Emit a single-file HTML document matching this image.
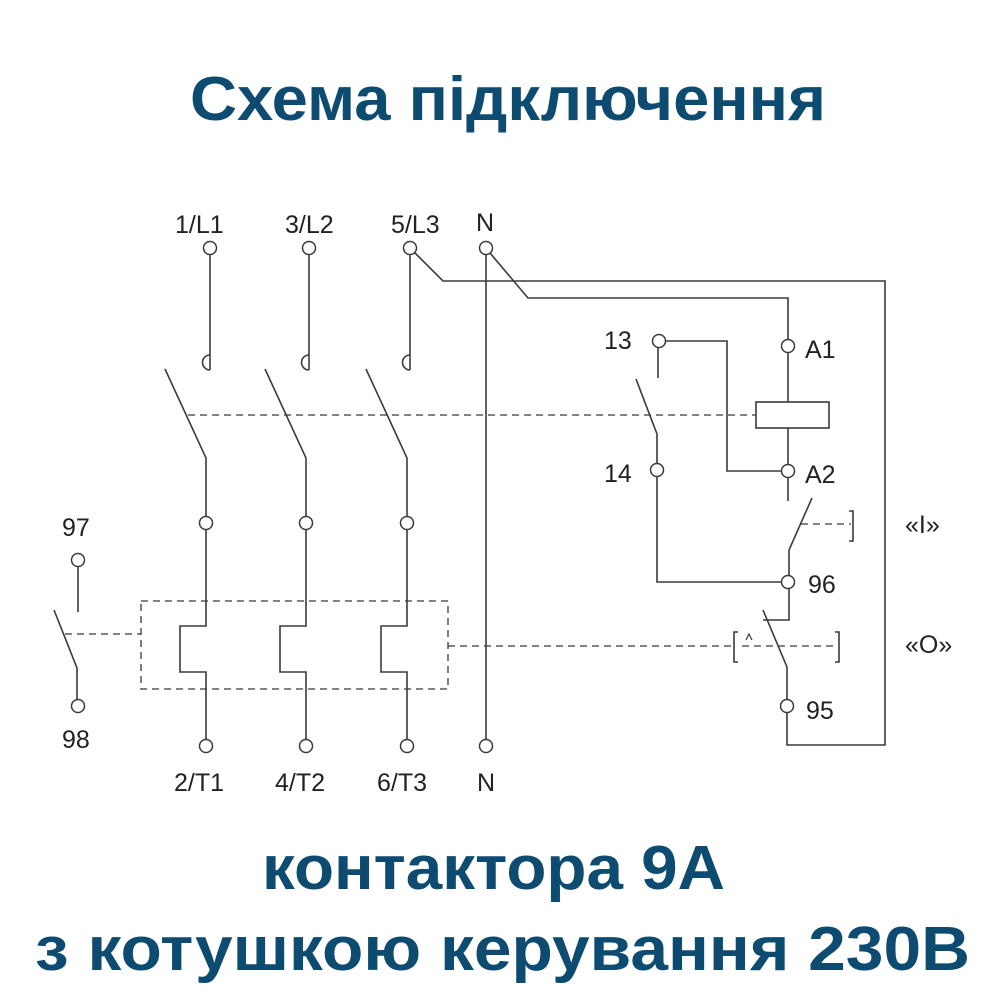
<!DOCTYPE html>
<html><head><meta charset="utf-8"><style>
html,body{margin:0;padding:0;background:#fff;}
svg{display:block;}
.t{font-family:"Liberation Sans","DejaVu Sans",sans-serif;font-weight:bold;fill:#0d4c70;}
.l{font-family:"Liberation Sans","DejaVu Sans",sans-serif;fill:#222;font-size:25px;}
</style></head><body>
<svg width="1000" height="1000" viewBox="0 0 1000 1000" xmlns="http://www.w3.org/2000/svg">
<text class="t" x="190" y="120" font-size="62" textLength="636" lengthAdjust="spacingAndGlyphs">Схема  підключення</text>
<text class="t" x="262" y="889" font-size="62" textLength="463" lengthAdjust="spacingAndGlyphs">контактора  9А</text>
<text class="t" x="35" y="970" font-size="62" textLength="935" lengthAdjust="spacingAndGlyphs">з  котушкою  керування  230В</text>

<g stroke="#3a3a3a" stroke-width="1.6" fill="none">
<line x1="210" y1="254" x2="210" y2="370"/><path d="M210 355 A7.5 7.5 0 0 0 210 370"/>
<line x1="309" y1="254" x2="309" y2="370"/><path d="M309 355 A7.5 7.5 0 0 0 309 370"/>
<line x1="410" y1="254" x2="410" y2="370"/><path d="M410 355 A7.5 7.5 0 0 0 410 370"/>
<polyline points="165,369 206,458 206,516"/>
<polyline points="265,369 306,458 306,516"/>
<polyline points="366,369 407,458 407,516"/>
<polyline points="206,530 206,626 180,626 180,672 206,672 206,740"/>
<polyline points="306,530 306,626 280,626 280,672 306,672 306,740"/>
<polyline points="407,530 407,626 381,626 381,672 407,672 407,740"/>
<line x1="486" y1="254" x2="486" y2="740"/>
<polyline points="490,253 528,298 788,298 788,339"/>
<polyline points="414,252 443,281 885,281 885,745 787,745 787,713"/>
<line x1="788" y1="353" x2="788" y2="402"/>
<rect x="756" y="402" width="73" height="26"/>
<line x1="788" y1="428" x2="788" y2="464"/>
<line x1="788" y1="478" x2="788" y2="501"/>
<polyline points="666,341 727,341 727,471 781,471"/>
<line x1="658" y1="348" x2="658" y2="378"/>
<polyline points="636,379 657,434 657,463"/>
<polyline points="657,477 657,582 781,582"/>
<polyline points="812,498 789,550 789,575"/>
<polyline points="789,589 789,620 763,620"/>
<polyline points="763,610 787,667 787,699"/>
<line x1="78" y1="567" x2="78" y2="612"/>
<polyline points="54,610 77,668 77,699"/>
<polyline points="849,511 853,511 853,541 849,541"/>
<polyline points="738,632 734,632 734,662 738,662"/>
<polyline points="835,632 839,632 839,662 835,662"/>
</g>
<g stroke="#3a3a3a" stroke-width="1.3" fill="none" stroke-dasharray="7,5">
<line x1="188" y1="415" x2="756" y2="415"/>
<rect x="141" y="601" width="307" height="88"/>
<line x1="65" y1="634" x2="141" y2="634"/>
<line x1="448" y1="646" x2="734" y2="646"/>
<line x1="742" y1="646" x2="836" y2="646"/>
<line x1="801" y1="524" x2="851" y2="524"/>
</g>
<path d="M746 640 L749 634 L752 640" stroke="#3a3a3a" stroke-width="1.2" fill="none"/>
<g stroke="#3a3a3a" stroke-width="1.5" fill="#fff">
<circle cx="210" cy="248" r="6.5"/><circle cx="309" cy="248" r="6.5"/><circle cx="410" cy="248" r="6.5"/><circle cx="486" cy="248" r="6.5"/>
<circle cx="206" cy="523" r="6.5"/><circle cx="306" cy="523" r="6.5"/><circle cx="407" cy="523" r="6.5"/>
<circle cx="206" cy="746" r="6.5"/><circle cx="306" cy="746" r="6.5"/><circle cx="407" cy="746" r="6.5"/><circle cx="486" cy="746" r="6.5"/>
<circle cx="78" cy="560" r="6.5"/><circle cx="78" cy="706" r="6.5"/>
<circle cx="659" cy="341" r="6.5"/><circle cx="657" cy="470" r="6.5"/>
<circle cx="788" cy="346" r="6.5"/><circle cx="788" cy="471" r="6.5"/>
<circle cx="788" cy="582" r="6.5"/><circle cx="787" cy="706" r="6.5"/>
</g>
<text class="l" x="175" y="233">1/L1</text>
<text class="l" x="285" y="233">3/L2</text>
<text class="l" x="391" y="233">5/L3</text>
<text class="l" x="476" y="231">N</text>
<text class="l" x="174" y="791">2/T1</text>
<text class="l" x="275" y="791">4/T2</text>
<text class="l" x="377" y="791">6/T3</text>
<text class="l" x="477" y="791">N</text>
<text class="l" x="62" y="536">97</text>
<text class="l" x="62" y="748">98</text>
<text class="l" x="604" y="349">13</text>
<text class="l" x="604" y="482">14</text>
<text class="l" x="805" y="358">A1</text>
<text class="l" x="805" y="483">A2</text>
<text class="l" x="808" y="593">96</text>
<text class="l" x="806" y="719">95</text>
<text class="l" x="905" y="533">«I»</text>
<text class="l" x="905" y="653">«O»</text>
</svg>
</body></html>
